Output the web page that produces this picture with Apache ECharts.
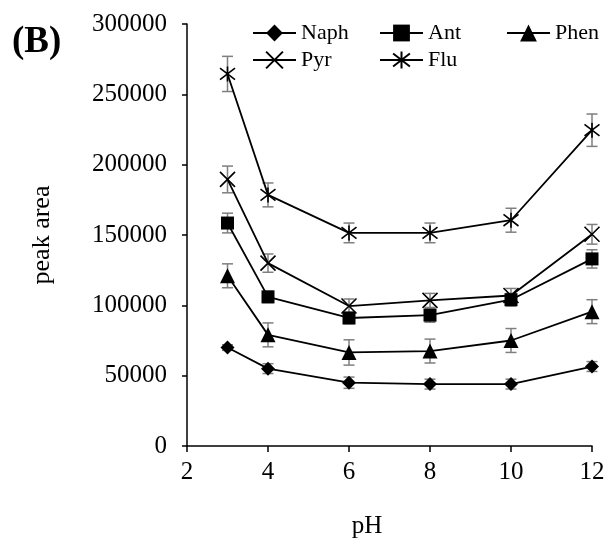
<!DOCTYPE html>
<html>
<head>
<meta charset="utf-8">
<script src="https://cdn.jsdelivr.net/npm/echarts@6/dist/echarts.min.js"></script>
<style>html,body{margin:0;padding:0;background:#fff;}#c{width:608px;height:544px;}</style>
</head>
<body>
<div id="c"></div>
<script>
var pH = [3, 4, 6, 8, 10, 12];
var naph = [70000, 55000, 45000, 44000, 44000, 56500];
var naphErr = [2000, 3500, 4000, 3500, 3500, 3500];
var ant = [158500, 106000, 91000, 93000, 104000, 133000];
var antErr = [7000, 4000, 4000, 5000, 4500, 6500];
var phen = [121000, 79000, 66500, 67500, 75000, 95500];
var phenErr = [8500, 8500, 9000, 8500, 8500, 8500];
var pyr = [189500, 130000, 99500, 103500, 107000, 150500];
var pyrErr = [9500, 6500, 5000, 5000, 5000, 7000];
var flu = [264500, 178500, 151500, 151500, 160500, 224500];
var fluErr = [12500, 8500, 7000, 7000, 8500, 11500];
var xTicks = [2, 4, 6, 8, 10, 12];
var yTicks = [0, 50000, 100000, 150000, 200000, 250000, 300000];

var FONT = '"Liberation Serif", "Times New Roman", serif';
var names = ['Naph', 'Ant', 'Phen', 'Pyr', 'Flu'];
var vals = [naph, ant, phen, pyr, flu];
var errs = [naphErr, antErr, phenErr, pyrErr, fluErr];
var symbols = ['diamond', 'rect', 'triangle',
  'path://M0,0L10,10M10,0L0,10',
  'path://M0,0L10,10M10,0L0,10M5,-1.5L5,11.5'];
var sizes = [14, 13, 15, 15, 15];

function pairs(v) { return pH.map(function (x, i) { return [x, v[i]]; }); }

var series = [];
names.forEach(function (n, k) {
  series.push({
    type: 'custom',
    name: n + ' err',
    z: 1,
    silent: true,
    data: pH.map(function (x, i) { return [x, vals[k][i], errs[k][i]]; }),
    renderItem: function (params, api) {
      var x = api.value(0), y = api.value(1), e = api.value(2);
      var top = api.coord([x, y + e]);
      var bot = api.coord([x, y - e]);
      var hw = 5.5;
      var st = { stroke: '#7f7f7f', lineWidth: 1.5 };
      return {
        type: 'group',
        children: [
          { type: 'line', shape: { x1: top[0], y1: top[1], x2: bot[0], y2: bot[1] }, style: st },
          { type: 'line', shape: { x1: top[0] - hw, y1: top[1], x2: top[0] + hw, y2: top[1] }, style: st },
          { type: 'line', shape: { x1: bot[0] - hw, y1: bot[1], x2: bot[0] + hw, y2: bot[1] }, style: st }
        ]
      };
    }
  });
});
names.forEach(function (n, k) {
  var isPath = k >= 3;
  series.push({
    type: 'line',
    name: n,
    z: 3,
    data: pairs(vals[k]),
    symbol: symbols[k],
    symbolSize: sizes[k],
    showAllSymbol: true,
    lineStyle: { color: '#000', width: 1.8 },
    itemStyle: isPath ? { color: '#000', borderColor: '#000', borderWidth: 1.6 } : { color: '#000', borderWidth: 0 },
    emphasis: { disabled: true }
  });
});

var chart = echarts.init(document.getElementById('c'), null, { renderer: 'canvas' });
chart.setOption({
  animation: false,
  backgroundColor: '#fff',
  graphic: [{
    type: 'text', left: 12, top: 24,
    style: { text: '(B)', font: 'bold 37px ' + FONT, fill: '#000' }
  }],
  legend: {
    data: names,
    left: 252, top: 22, width: 380, padding: 0,
    itemWidth: 43, itemHeight: 21, itemGap: 5,
    selectedMode: false,
    textStyle: { fontFamily: FONT, fontSize: 22, color: '#000', width: 73, lineHeight: 22 }
  },
  grid: { left: 187, right: 16, top: 24, bottom: 98 },
  xAxis: {
    type: 'value', min: xTicks[0], max: xTicks[xTicks.length - 1], interval: 2,
    name: 'pH', nameLocation: 'middle', nameGap: 68,
    nameTextStyle: { fontFamily: FONT, fontSize: 25, color: '#000', padding: [0, 45, 0, 0] },
    axisLine: { lineStyle: { color: '#000', width: 1.5 } },
    axisTick: { show: true, length: 6, lineStyle: { color: '#000', width: 1.5 } },
    axisLabel: { fontFamily: FONT, fontSize: 25, color: '#000', margin: 14 },
    splitLine: { show: false }
  },
  yAxis: {
    type: 'value', min: yTicks[0], max: yTicks[yTicks.length - 1], interval: 50000,
    name: 'peak area', nameLocation: 'middle', nameGap: 132,
    nameTextStyle: { fontFamily: FONT, fontSize: 26, color: '#000' },
    axisLine: { show: true, lineStyle: { color: '#000', width: 1.5 } },
    axisTick: { show: true, length: 5, lineStyle: { color: '#000', width: 1.5 } },
    axisLabel: { fontFamily: FONT, fontSize: 25, color: '#000', margin: 20,
      formatter: function (v) { return String(v); } },
    splitLine: { show: false }
  },
  series: series
});
</script>
</body>
</html>
